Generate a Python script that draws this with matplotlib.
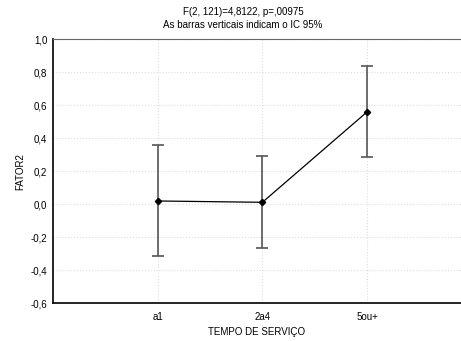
import matplotlib
matplotlib.use('Agg')
import matplotlib.pyplot as plt

# Data
categories = ['a1', '2a4', '5ou+']
means = [0.02, 0.012, 0.56]
upper = [0.36, 0.29, 0.84]
lower = [-0.315, -0.263, 0.287]
yticks = [-0.6, -0.4, -0.2, 0.0, 0.2, 0.4, 0.6, 0.8, 1.0]

plt.rcParams['font.family'] = ['Liberation Sans', 'DejaVu Sans']

fig = plt.figure(figsize=(4.61, 3.41), dpi=100)
ax = fig.add_axes([0.115, 0.1106, 0.885, 0.7742])

x = [1, 2, 3]
err_lo = [m - l for m, l in zip(means, lower)]
err_hi = [u - m for m, u in zip(means, upper)]

ax.errorbar(x, means, yerr=[err_lo, err_hi], fmt='none', ecolor='#555555',
            elinewidth=1.2, capsize=4, capthick=1.2, zorder=2)
ax.plot(x, means, color='black', lw=0.9, marker='D', ms=3.2, zorder=3)

ax.set_xlim(0, 3.897)
ax.set_ylim(-0.6, 1.0)
ax.set_xticks(x)
ax.set_xticklabels(categories)
ax.set_yticks(yticks)
ax.set_yticklabels([f'{v:.1f}'.replace('.', ',') for v in yticks])
ax.tick_params(labelsize=7, length=0)
ax.tick_params(axis='x', pad=6)
ax.tick_params(axis='y', pad=4)
ax.grid(True, color='#dddddd', linestyle=':', linewidth=0.8)
ax.set_axisbelow(True)

ax.spines['right'].set_visible(False)
ax.spines['top'].set_color('#666666')
ax.spines['left'].set_linewidth(1.2)
ax.spines['bottom'].set_linewidth(1.2)

ax.set_xlabel('TEMPO DE SERVIÇO', fontsize=7, labelpad=4)
ax.set_ylabel('FATOR2', fontsize=7, labelpad=4)
ax.set_title('F(2, 121)=4,8122, p=,00975\nAs barras verticais indicam o IC 95%',
             fontsize=7, pad=8, x=0.466, linespacing=1.4)

fig.savefig('out.png', dpi=100)
